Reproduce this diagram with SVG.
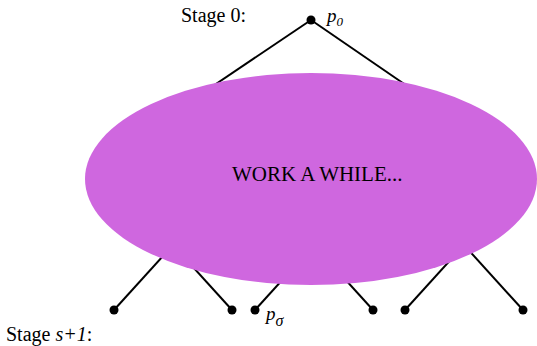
<svg xmlns="http://www.w3.org/2000/svg" width="537" height="346" viewBox="0 0 537 346">
<style>
.ln{stroke:#000;stroke-width:2;fill:none}
.dot{fill:#000}
.t{font-family:"Liberation Serif","Times New Roman",serif;fill:#000}
.i{font-style:italic}
</style>
<rect width="537" height="346" fill="#fff"/>
<g id="connectors">
<line class="ln" x1="311" y1="20" x2="173" y2="113"/>
<line class="ln" x1="311" y1="20" x2="464" y2="125"/>
<line class="ln" x1="173" y1="245" x2="114" y2="310"/>
<line class="ln" x1="173" y1="245" x2="232" y2="310"/>
<line class="ln" x1="314" y1="245" x2="255" y2="310"/>
<line class="ln" x1="314" y1="245" x2="373" y2="310"/>
<line class="ln" x1="464" y1="245" x2="405" y2="310"/>
<line class="ln" x1="464" y1="245" x2="523" y2="310"/>
</g>
<g id="work">
<ellipse cx="311" cy="179" rx="226" ry="106" fill="#cf67df"/>
<text class="t" x="232" y="181" font-size="21">WORK A WHILE...</text>
</g>
<g id="root">
<circle class="dot" cx="311" cy="20" r="4.5"/>
<text class="t i" x="327" y="22" font-size="19">p<tspan font-size="13" dy="4">0</tspan></text>
</g>
<g id="leaf1"><circle class="dot" cx="114" cy="310" r="4.5"/></g>
<g id="leaf2"><circle class="dot" cx="232" cy="310" r="4.5"/></g>
<g id="leaf3">
<circle class="dot" cx="255" cy="310" r="4.5"/>
<text class="t i" x="266" y="320" font-size="19">p<tspan font-size="16" dy="6">σ</tspan></text>
</g>
<g id="leaf4"><circle class="dot" cx="373" cy="310" r="4.5"/></g>
<g id="leaf5"><circle class="dot" cx="405" cy="310" r="4.5"/></g>
<g id="leaf6"><circle class="dot" cx="523" cy="310" r="4.5"/></g>
<g id="labels">
<text class="t" x="181" y="22" font-size="20">Stage 0:</text>
<text class="t" x="6" y="341" font-size="20">Stage <tspan class="i">s+1</tspan>:</text>
</g>
</svg>
